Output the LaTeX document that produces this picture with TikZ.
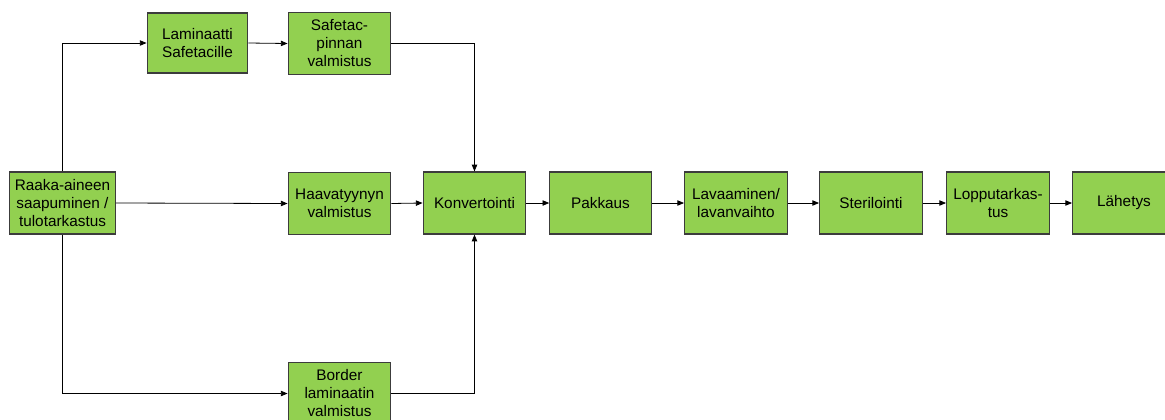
\documentclass[tikz,border=0pt]{standalone}
\usepackage{fontspec}
\setmainfont{Liberation Sans}
\usetikzlibrary{arrows.meta, positioning}
\definecolor{stepgreen}{RGB}{146,208,80}
\definecolor{stepedge}{RGB}{60,60,60}

\tikzset{
  stage/.style={draw=stepedge, fill=stepgreen, line width=0.9pt, align=center,
    minimum width=77pt, minimum height=46.5pt, inner sep=1pt,
    font=\fontsize{11.5}{13.5}\selectfont},
  flow/.style={draw=black, line width=0.6pt, -{Triangle[length=5pt,width=4pt]}}
}

\begin{document}
\begin{tikzpicture}[x=0.75pt, y=-0.75pt]
      \useasboundingbox (0,0) rectangle (1165,419);
      % source
      \node[stage, minimum width=79pt] (raaka) at (62.5,203) {Raaka-aineen\\saapuminen /\\tulotarkastus};
      % upper branch
      \node[stage, minimum width=75.5pt, minimum height=45pt] (laminaatti) at (197.5,43) {Laminaatti\\Safetacille};
      \node[stage] (safetac) at (339.5,43.5) {Safetac-\\pinnan\\valmistus};
      % middle and lower branch
      \node[stage] (haava) at (339.5,203.5) {Haavatyynyn\\valmistus};
      \node[stage] (border) at (339.5,393.5) {Border\\laminaatin\\valmistus};
      % main line
      \node[stage] (konv) at (474.5,203) {Konvertointi};
      \node[stage, minimum width=76pt] (pakkaus) at (600.5,203) {Pakkaus};
      \node[stage] (lava) at (736,203) {Lavaaminen/\\lavanvaihto};
      \node[stage] (steril) at (871,203) {Sterilointi};
      \node[stage] (loppu) at (998,203) {Lopputarkas-\\tus};
      \node[stage] (lahetys) at (1124,203) {Lähetys};

      \draw[flow] (raaka.north) |- (laminaatti.west);
      \draw[flow] (laminaatti.east) -- (safetac.west);
      \draw[flow] (safetac.east) -| (konv.north);
      \draw[flow] (raaka.east) -- (haava.west);
      \draw[flow] (haava.east) -- (konv.west);
      \draw[flow] (raaka.south) |- (border.west);
      \draw[flow] (border.east) -| (konv.south);
      \draw[flow] (konv.east) -- (pakkaus.west);
      \draw[flow] (pakkaus.east) -- (lava.west);
      \draw[flow] (lava.east) -- (steril.west);
      \draw[flow] (steril.east) -- (loppu.west);
      \draw[flow] (loppu.east) -- (lahetys.west);
    \end{tikzpicture}
\end{document}
